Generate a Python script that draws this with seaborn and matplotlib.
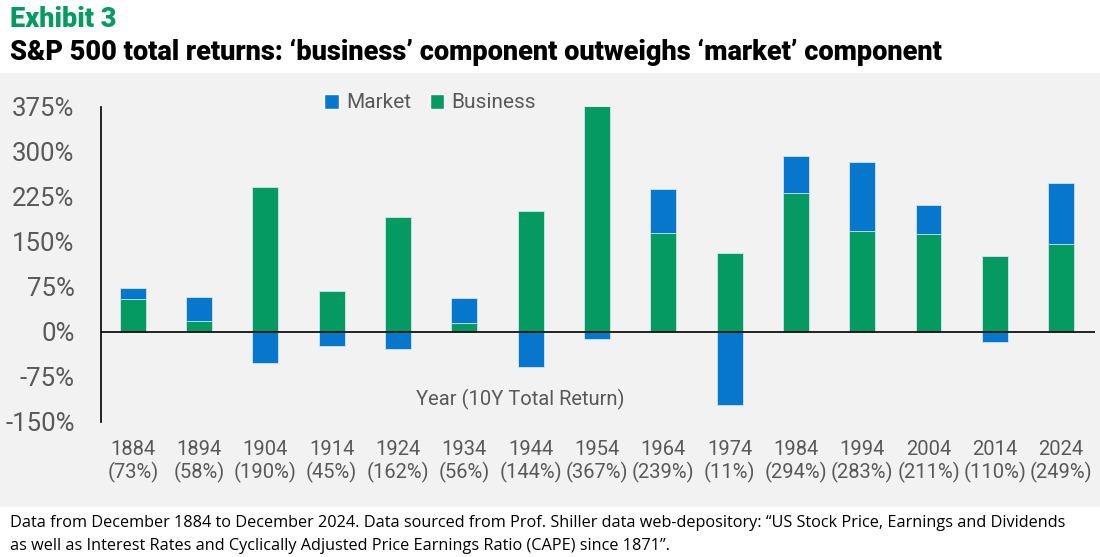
import numpy as np
import pandas as pd
import matplotlib
matplotlib.use("Agg")
import matplotlib.pyplot as plt
import seaborn as sns
from matplotlib.patches import Patch, Rectangle

# ---------------------------------------------------------------------------
# data
# ---------------------------------------------------------------------------
years = ["1884", "1894", "1904", "1914", "1924", "1934", "1944", "1954",
         "1964", "1974", "1984", "1994", "2004", "2014", "2024"]
total_return = [73, 58, 190, 45, 162, 56, 144, 367, 239, 11, 294, 283, 211, 110, 249]
business = [55, 18, 242, 69, 191, 15, 202, 378, 165, 132, 232, 168, 164, 126, 147]
market = [18, 40, -51, -24, -28, 41, -58, -12, 74, -121, 62, 115, 47, -16, 102]

y_ticks = [-150, -75, 0, 75, 150, 225, 300, 375]

BLUE = "#0677cc"
GREEN = "#069a63"
PANEL = "#f2f2f2"
GREY_TXT = "#595959"

labels = [f"{y}\n({t}%)" for y, t in zip(years, total_return)]
df = pd.DataFrame({"label": labels, "business": business, "market": market})
# blue bar: stacked on top of business when positive, hanging below zero otherwise
df["market_top"] = np.where(df["market"] > 0, df["business"] + df["market"], df["market"])

sns.set_theme(style="white")
plt.rcParams["font.family"] = ["Roboto", "DejaVu Sans"]

fig = plt.figure(figsize=(11, 5.57), dpi=100)
fig.patch.set_facecolor("white")

# grey panel behind the chart
fig.patches.append(Rectangle((0, 0.09), 1, 0.779, transform=fig.transFigure,
                             facecolor=PANEL, edgecolor="none", zorder=-10))

ax = fig.add_axes([0.0918, 0.2424, 0.9036, 0.5655])
ax.set_facecolor(PANEL)
ax.patch.set_alpha(0)

sns.barplot(data=df, x="label", y="market_top", color=BLUE, width=0.39,
            edgecolor="#cfe6ee", linewidth=0.6, saturation=1, ax=ax)
sns.barplot(data=df, x="label", y="business", color=GREEN, width=0.39,
            edgecolor="#cfe6ee", linewidth=0.6, saturation=1, ax=ax)

ax.axhline(0, color="black", lw=1.2, zorder=3)
ax.set_ylim(-150, 375)
ax.set_xlim(-0.48, 14.51)
ax.set_yticks(y_ticks)
ax.set_yticklabels([f"{v}%" for v in y_ticks])
ax.tick_params(axis="y", length=0, pad=19, labelsize=18.5, labelcolor=GREY_TXT)
ax.tick_params(axis="x", length=0, pad=13, labelsize=14.5, labelcolor=GREY_TXT)
ax.set_xlabel("")
ax.set_ylabel("")
for side in ["top", "right", "bottom"]:
    ax.spines[side].set_visible(False)
ax.spines["left"].set_color("black")
ax.spines["left"].set_linewidth(1.2)

ax.text(5.85, -112, "Year (10Y Total Return)", ha="center", va="center",
        fontsize=14.5, color=GREY_TXT)

handles = [Patch(facecolor=BLUE, label="Market"), Patch(facecolor=GREEN, label="Business")]
ax.legend(handles=handles, loc="center", bbox_to_anchor=(430 / 1100, 1 - 103 / 557),
          bbox_transform=fig.transFigure, ncol=2, frameon=False, fontsize=15,
          handlelength=0.7, handleheight=0.7, handletextpad=0.35, columnspacing=0.9,
          labelcolor=GREY_TXT)

# titles
fig.text(10 / 1100, 1 - 27 / 557, "Exhibit 3", color=GREEN, fontsize=19.5,
         fontweight="black", va="baseline", ha="left")
fig.text(10 / 1100, 1 - 60 / 557,
         "S&P 500 total returns: \u2018business\u2019 component outweighs \u2018market\u2019 component",
         color="black", fontsize=19.5, fontweight="black", va="baseline", ha="left")

# footnote
foot_font = ["Open Sans", "DejaVu Sans"]
fig.text(10 / 1100, 1 - 527 / 557,
         "Data from December 1884 to December 2024. Data sourced from Prof. Shiller data web-depository: "
         "\u201cUS Stock Price, Earnings and Dividends",
         color="black", fontsize=11.7, va="baseline", ha="left", family=foot_font)
fig.text(10 / 1100, 1 - 550 / 557,
         "as well as Interest Rates and Cyclically Adjusted Price Earnings Ratio (CAPE) since 1871\u201d.",
         color="black", fontsize=11.7, va="baseline", ha="left", family=foot_font)

fig.savefig("out.png", dpi=100, facecolor="white")
